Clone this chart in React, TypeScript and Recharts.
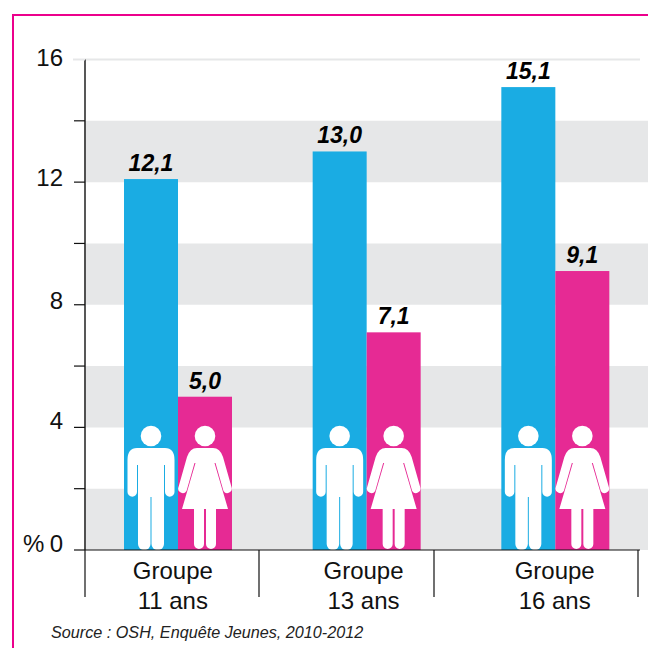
import { BarChart, Bar, XAxis, YAxis, ReferenceArea, ReferenceLine, LabelList } from "recharts";

const groups = ["11 ans", "13 ans", "16 ans"];
const boys = [12.1, 13.0, 15.1];
const girls = [5.0, 7.1, 9.1];

const yTicks = [0, 2, 4, 6, 8, 10, 12, 14, 16];
const yLabels = [0, 4, 8, 12, 16];
const shadedBands = [
  [12, 14],
  [8, 10],
  [4, 6],
  [0, 2],
];

const groupLabelShift = [-5.5, -3.5, -1];
const separatorsAfter = [259, 434, 638];
// the hand-set axis labels in the original do not sit evenly on their ticks
const yLabelNudge: Record<number, number> = { 0: 2, 4: 2, 8: 4, 12: 4, 16: 6 };

const BLUE = "#1aace3";
const PINK = "#e62a94";
const FRAME = "#ec008c";
const BAND = "#e6e7e8";
const FONT = "'Liberation Sans', Arial, sans-serif";
const AXIS_Y = 550;

const data = groups.map((g, i) => ({ group: g, boys: boys[i], girls: girls[i] }));

const fmt = (v: number) => v.toFixed(1).replace(".", ",");

const MAN =
  "M-14,-102 H14 Q23.5,-102 23.5,-90 V-58 A4.75,4.75 0 0 1 14,-58 V-85 H13 V-6 A6.25,6.25 0 0 1 0.5,-6 V-53 H-0.5 V-6 A6.25,6.25 0 0 1 -13,-6 V-85 H-14 V-58 A4.75,4.75 0 0 1 -23.5,-58 V-90 Q-23.5,-102 -14,-102 Z";
const WOMAN =
  "M-8,-102 H8 Q15,-102 18,-93 L26.5,-63 A4.5,4.5 0 0 1 18.5,-59 L10.5,-87 L9.5,-87 L23,-41 H11 V-6 A5,5 0 0 1 1,-6 V-41 H-1 V-6 A5,5 0 0 1 -11,-6 V-41 H-23 L-9.5,-87 L-10.5,-87 L-18.5,-59 A4.5,4.5 0 0 1 -26.5,-63 L-18,-93 Q-15,-102 -8,-102 Z";

function PersonBar(props: any, path: string) {
  const { x, y, width, height, fill } = props;
  const cx = x + width / 2;
  const base = y + height;
  return (
    <g>
      <rect x={x} y={y} width={width} height={height} fill={fill} />
      <circle cx={cx} cy={base - 114} r={10.3} fill="#fff" />
      <path d={path} transform={`translate(${cx},${base})`} fill="#fff" />
    </g>
  );
}

function YTick({ y, payload }: any) {
  const v = payload.value;
  return (
    <g>
      {v === 16 ? (
        <line x1={73} x2={85} y1={y} y2={y} stroke={BAND} strokeWidth={2} />
      ) : (
        <line x1={74} x2={85} y1={y} y2={y} stroke="#111" strokeWidth={1.2} />
      )}
      {yLabels.includes(v) && (
        <text x={63} y={y + yLabelNudge[v]} textAnchor="end" fontFamily={FONT} fontSize={24} fill="#111">
          {v}
        </text>
      )}
      {v === 0 && (
        <text x={23} y={y + yLabelNudge[v]} fontFamily={FONT} fontSize={24} fill="#111">
          %
        </text>
      )}
    </g>
  );
}

function XTick({ x, index, payload }: any) {
  const cx = x + groupLabelShift[index];
  return (
    <g>
      {index === 0 && <line x1={85} x2={85} y1={AXIS_Y} y2={597} stroke="#111" strokeWidth={1.2} />}
      <line x1={separatorsAfter[index]} x2={separatorsAfter[index]} y1={AXIS_Y} y2={597} stroke="#111" strokeWidth={1.2} />
      <text x={cx} textAnchor="middle" fontFamily={FONT} fontSize={24} fill="#111">
        <tspan x={cx} y={579}>Groupe</tspan>
        <tspan x={cx} y={609}>{payload.value}</tspan>
      </text>
    </g>
  );
}

export default function App() {
  const labelStyle = { fontFamily: FONT, fontSize: 23, fontWeight: 700, fontStyle: "italic", fill: "#000" };
  return (
    <div style={{ position: "absolute", left: 0, top: 0, width: 648, height: 648, background: "#fff", overflow: "hidden" }}>
      {/* pink frame, open on the right and bottom */}
      <div style={{ position: "absolute", left: 12, top: 14, width: 640, height: 640, borderLeft: `2px solid ${FRAME}`, borderTop: `2px solid ${FRAME}` }} />
      <div style={{ position: "absolute", left: 0, top: 0 }}>
        <BarChart
          width={648}
          height={648}
          data={data}
          margin={{ top: 59.5, right: 8, bottom: 0, left: 0 }}
          barSize={54}
          barGap={0}
        >
          {shadedBands.map(([lo, hi]) => (
            <ReferenceArea key={lo} y1={lo} y2={hi} fill={BAND} fillOpacity={1} stroke="none" />
          ))}
          <ReferenceLine y={16} stroke={BAND} strokeWidth={2} />
          <XAxis
            dataKey="group"
            height={98}
            padding={{ left: -1, right: -10 }}
            tick={<XTick />}
            tickLine={false}
            axisLine={{ stroke: "#111", strokeWidth: 1.2 }}
            interval={0}
          />
          <YAxis
            width={85}
            domain={[0, 16]}
            ticks={yTicks}
            interval={0}
            tick={<YTick />}
            tickLine={false}
            axisLine={{ stroke: "#111", strokeWidth: 1.4 }}
          />
          <Bar dataKey="boys" fill={BLUE} isAnimationActive={false} shape={(p: any) => PersonBar(p, MAN)}>
            <LabelList dataKey="boys" position="top" offset={8} formatter={fmt} style={labelStyle} />
          </Bar>
          <Bar dataKey="girls" fill={PINK} isAnimationActive={false} shape={(p: any) => PersonBar(p, WOMAN)}>
            <LabelList dataKey="girls" position="top" offset={8} formatter={fmt} style={labelStyle} />
          </Bar>
        </BarChart>
      </div>
      <div style={{ position: "absolute", left: 51, top: 623, fontFamily: FONT, fontStyle: "italic", fontSize: 16.2, color: "#222", whiteSpace: "nowrap" }}>
        Source : OSH, Enquête Jeunes, 2010-2012
      </div>
    </div>
  );
}
